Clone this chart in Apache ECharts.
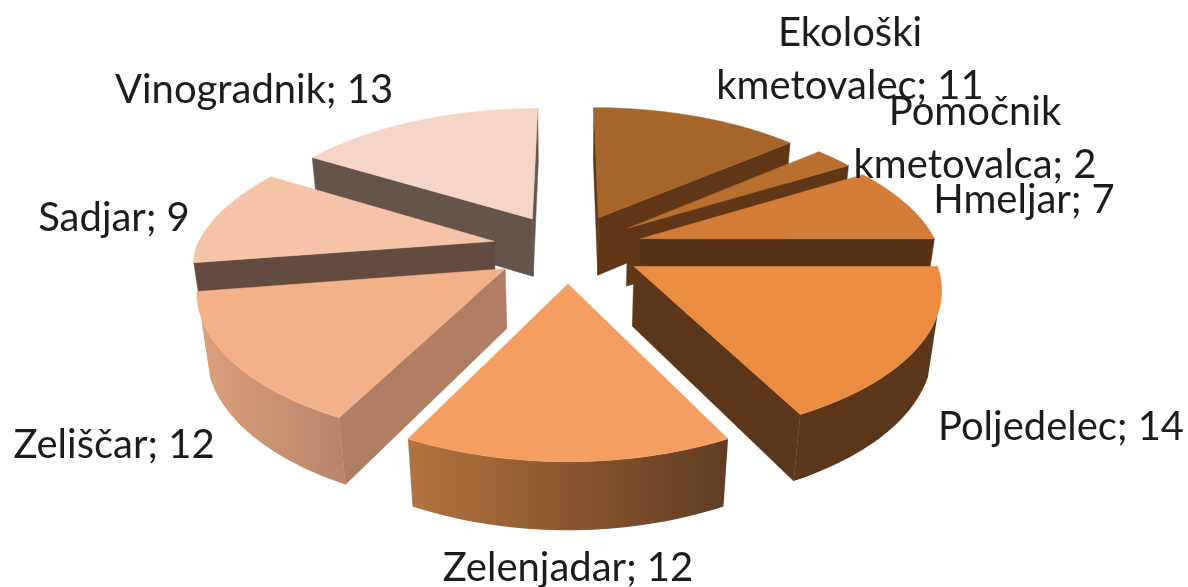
<!DOCTYPE html>
<html lang="sl">
<head>
    <meta charset="UTF-8">
    <title>Kmetovalci</title>
    <script src="https://cdn.jsdelivr.net/npm/echarts@6/dist/echarts.min.js"></script>
    <style>
        html, body { margin: 0; background: #fff; }
        #chart { width: 1188px; height: 587px; }
    </style>
</head>
<body>
<div id="chart"></div>
<script>
    // data
    const names = ['Ekološki\nkmetovalec', 'Pomočnik\nkmetovalca', 'Hmeljar', 'Poljedelec', 'Zelenjadar', 'Zeliščar', 'Sadjar', 'Vinogradnik'];
    const values = [11, 2, 7, 14, 12, 12, 9, 13];

    // styles, one per slice
    const topColors = ['#a6652b', '#b96f30', '#d37d39', '#eb8d41', '#f59e62', '#f3b18a', '#f5c4a8', '#f6d5c6'];
    const cutColors = ['#5f3717', '#5f3717', '#573215', '#5c3619', '#5f3c22', '#b07f63', '#634c3f', '#64544a'];
    const arcLeft = ['#6b4019', '#6b4019', '#573215', '#5c3619', '#b3733f', '#dca07d', '#7a6050', '#64544a'];
    const arcRight = ['#6b4019', '#6b4019', '#573215', '#5c3619', '#5f3c22', '#b5856a', '#7a6050', '#64544a'];
    const labelPos = [[850, 60], [975, 139], [1024, 200], [1061, 427], [568, 568], [114, 445], [114, 218], [254, 90]];

    // fake 3d camera, x and y get their own perspective to follow the picture
    const cx = 568, cy = 248;
    const scaleX = 298, scaleY = 135, wallHeight = 60;
    const explode = 0.255, cameraY = -4;

    // z is 0 on the top face and -1 on the bottom face
    function project(x, y, z) {
        const wx = 1 + (y > 0 ? 0.186 : 0.135) * y - 0.025 * z;
        const wy = 1 + (y > 0 ? 0.15 : 0.165) * y - 0.02 * z;
        return [cx + scaleX * x / wx, cy - (scaleY * y + wallHeight * z) / wy];
    }

    function facing(nx, ny, px, py) {
        // is the wall with this normal turned to the camera
        return nx * (0 - px) + ny * (cameraY - py) > 0;
    }

    const total = values.reduce((a, b) => a + b, 0);
    const slices = [];
    let sum = 0;
    values.forEach((v, i) => {
        const a0 = sum / total * Math.PI * 2;
        sum += v;
        const a1 = sum / total * Math.PI * 2;
        slices.push({ i: i, a0: a0, a1: a1, mid: (a0 + a1) / 2 });
    });
    // back slices first so that the front ones cover their walls
    const order = slices.slice().sort((a, b) => Math.cos(b.mid) - Math.cos(a.mid)).map(s => s.i);

    function renderSlice(params, api) {
        const s = slices[api.value(0)];
        const ox = explode * Math.sin(s.mid), oy = explode * Math.cos(s.mid);
        const children = [];
        const top = [project(ox, oy, 0)];
        const arcTop = [], arcBottom = [];
        const steps = 40;
        for (let k = 0; k <= steps; k++) {
            const a = s.a0 + (s.a1 - s.a0) * k / steps;
            const x = ox + Math.sin(a), y = oy + Math.cos(a);
            top.push(project(x, y, 0));
            if (facing(Math.sin(a), Math.cos(a), x, y)) {
                arcTop.push(project(x, y, 0));
                arcBottom.unshift(project(x, y, -1));
            }
        }
        // the two cut walls
        [[s.a0, -1], [s.a1, 1]].forEach(c => {
            const a = c[0], x = ox + Math.sin(a), y = oy + Math.cos(a);
            if (facing(c[1] * Math.cos(a), -c[1] * Math.sin(a), x, y)) {
                children.push({
                    type: 'polygon',
                    shape: { points: [project(ox, oy, 0), project(x, y, 0), project(x, y, -1), project(ox, oy, -1)] },
                    style: { fill: cutColors[s.i], stroke: cutColors[s.i], lineWidth: 0.5 }
                });
            }
        });
        if (arcTop.length > 1) {
            children.push({
                type: 'polygon',
                shape: { points: arcTop.concat(arcBottom) },
                style: {
                    fill: new echarts.graphic.LinearGradient(0, 0, 1, 0, [
                        { offset: 0, color: arcLeft[s.i] },
                        { offset: 1, color: arcRight[s.i] }
                    ])
                }
            });
        }
        children.push({
            type: 'polygon',
            shape: { points: top },
            style: { fill: topColors[s.i], stroke: topColors[s.i], lineWidth: 0.5 }
        });
        return { type: 'group', children: children };
    }

    function renderLabel(params, api) {
        const i = api.value(0);
        return {
            type: 'text',
            x: labelPos[i][0],
            y: labelPos[i][1],
            style: {
                text: names[i] + '; ' + values[i],
                fontFamily: 'Lato',
                fontSize: 40,
                lineHeight: 53,
                fill: '#1c1c1c',
                align: 'center',
                verticalAlign: 'middle'
            }
        };
    }

    const myChart = echarts.init(document.getElementById('chart'));
    myChart.setOption({
        animation: false,
        backgroundColor: '#fff',
        series: [
            { type: 'custom', coordinateSystem: 'none', renderItem: renderSlice, data: order.map(i => [i, values[i]]), silent: true },
            { type: 'custom', coordinateSystem: 'none', renderItem: renderLabel, data: values.map((v, i) => [i, v]), silent: true, z: 5 }
        ]
    });
</script>
</body>
</html>
